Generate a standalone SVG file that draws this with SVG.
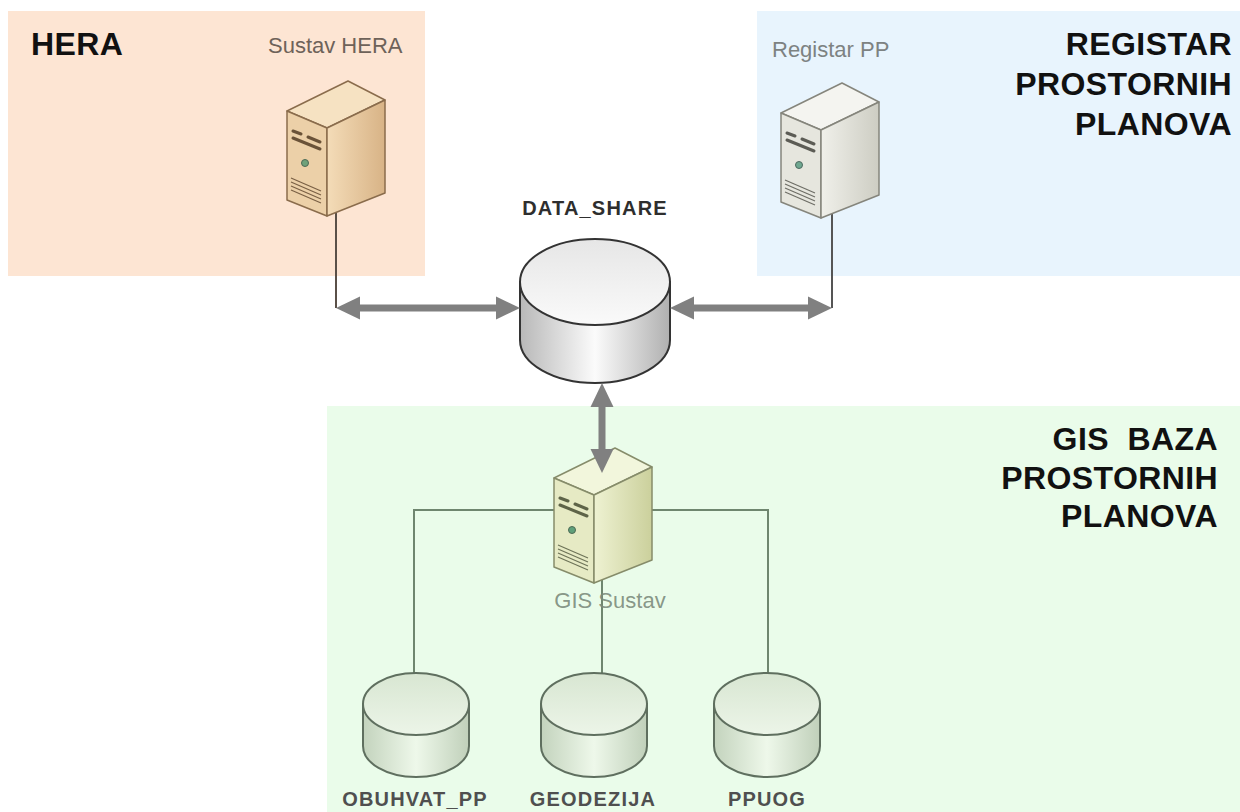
<svg xmlns="http://www.w3.org/2000/svg" width="1240" height="812" viewBox="0 0 1240 812">
<style>
.title{font-family:"Liberation Sans",Arial,sans-serif;font-weight:bold;font-size:32px;fill:#111;letter-spacing:0.4px}
.lbl{font-family:"Liberation Sans",Arial,sans-serif;font-size:22px}
.dbl{font-family:"Liberation Sans",Arial,sans-serif;font-weight:bold;font-size:20px;text-anchor:middle;letter-spacing:1.2px}
.thin{fill:none;stroke-width:2}
.arrow{stroke:#808080;stroke-width:7;fill:none;marker-start:url(#ah);marker-end:url(#ah)}
.slot{fill:none;stroke-width:3;stroke-linecap:round}
.vent{fill:none;stroke-width:1.2}
</style>
<defs>
<marker id="ah" markerUnits="userSpaceOnUse" markerWidth="24" markerHeight="24" refX="14" refY="11.5" orient="auto-start-reverse" viewBox="0 0 24 23">
<path d="M0,0 L24,11.5 L0,23 Z" fill="#808080"/>
</marker>
<linearGradient id="cylGray" x1="0" y1="0" x2="1" y2="0">
<stop offset="0" stop-color="#b8b8b8"/><stop offset="0.5" stop-color="#fbfbfb"/><stop offset="1" stop-color="#b0b0b0"/>
</linearGradient>
<linearGradient id="topGray" x1="0" y1="0" x2="0" y2="1">
<stop offset="0" stop-color="#e6e6e6"/><stop offset="1" stop-color="#fafafa"/>
</linearGradient>
<linearGradient id="cylGreen" x1="0" y1="0" x2="1" y2="0">
<stop offset="0" stop-color="#c3d3bd"/><stop offset="0.5" stop-color="#eef8ea"/><stop offset="1" stop-color="#c0d0ba"/>
</linearGradient>
<linearGradient id="topGreen" x1="0" y1="0" x2="0" y2="1">
<stop offset="0" stop-color="#d8e6d2"/><stop offset="1" stop-color="#ecf5e8"/>
</linearGradient>
<linearGradient id="sideHera" x1="0" y1="0" x2="1" y2="0">
<stop offset="0" stop-color="#f4dcb8"/><stop offset="1" stop-color="#d8b386"/>
</linearGradient>
<linearGradient id="sideReg" x1="0" y1="0" x2="1" y2="0">
<stop offset="0" stop-color="#f0f0ea"/><stop offset="1" stop-color="#cdcdc3"/>
</linearGradient>
<linearGradient id="sideGis" x1="0" y1="0" x2="1" y2="0">
<stop offset="0" stop-color="#eef2d2"/><stop offset="1" stop-color="#cbd09c"/>
</linearGradient>
</defs>

<g id="regions">
<rect id="region-hera" x="8" y="11" width="417" height="265" fill="#fde5d3"/>
<rect id="region-registar" x="757" y="11" width="483" height="265" fill="#e8f4fd"/>
<rect id="region-gis" x="327" y="406" width="913" height="406" fill="#eafcea"/>
<text class="title" x="31" y="55">HERA</text>
<text class="title" text-anchor="end"><tspan x="1232" y="55">REGISTAR</tspan><tspan x="1232" y="95">PROSTORNIH</tspan><tspan x="1232" y="135">PLANOVA</tspan></text>
<text class="title" text-anchor="end" xml:space="preserve"><tspan x="1218" y="450">GIS  BAZA</tspan><tspan x="1218" y="489">PROSTORNIH</tspan><tspan x="1218" y="527">PLANOVA</tspan></text>
</g>

<g id="connectors">
<path class="thin" stroke="#5a5048" d="M336,212 V308"/>
<path class="thin" stroke="#555" d="M832,212 V308"/>
<path class="thin" stroke="#6f866f" d="M557,510 H414 V673 M652,510 H768 V673 M602,570 V673"/>
</g>

<g id="node-sustav-hera">
<text class="lbl" x="268" y="53" fill="#6e6259">Sustav HERA</text>
<g transform="translate(348,81)" stroke="#8a6c4c" stroke-width="1.5" stroke-linejoin="round">
<path d="M-61,30 L0,0 L37,19 L-21,47 Z" fill="#f6e2c2"/>
<path d="M-61,30 L-21,47 L-21,135 L-61,119 Z" fill="#ecd0a8"/>
<path d="M-21,47 L37,19 L37,112 L-21,135 Z" fill="url(#sideHera)"/>
<path class="slot" stroke="#6a5238" d="M-55,50 L-47,53 M-40,56 L-28,61 M-55,57 L-28,68"/>
<circle cx="-43" cy="82" r="3.5" fill="#6fa27a" stroke="#4d6a55" stroke-width="1"/>
<path class="vent" stroke="#7a6045" d="M-57,97 L-27,110 M-57,101 L-27,114 M-57,105 L-27,118 M-57,109 L-27,122"/>
</g>
</g>

<g id="node-registar-pp">
<text class="lbl" x="772" y="57" fill="#7d8282">Registar PP</text>
<g transform="translate(842,83)" stroke="#85857c" stroke-width="1.5" stroke-linejoin="round">
<path d="M-61,30 L0,0 L37,19 L-21,47 Z" fill="#f4f4f0"/>
<path d="M-61,30 L-21,47 L-21,135 L-61,119 Z" fill="#e6e6de"/>
<path d="M-21,47 L37,19 L37,112 L-21,135 Z" fill="url(#sideReg)"/>
<path class="slot" stroke="#5c5c55" d="M-55,50 L-47,53 M-40,56 L-28,61 M-55,57 L-28,68"/>
<circle cx="-43" cy="82" r="3.5" fill="#6fa890" stroke="#4d6a60" stroke-width="1"/>
<path class="vent" stroke="#6e6e66" d="M-57,97 L-27,110 M-57,101 L-27,114 M-57,105 L-27,118 M-57,109 L-27,122"/>
</g>
</g>

<g id="node-data-share">
<text class="dbl" x="595" y="215" fill="#2e2e2e">DATA_SHARE</text>
<path d="M520,282 V340 A75,43 0 0 0 670,340 V282 Z" fill="url(#cylGray)" stroke="#333" stroke-width="2"/>
<ellipse cx="595" cy="282" rx="75" ry="43" fill="url(#topGray)" stroke="#333" stroke-width="2"/>
</g>

<g id="node-gis-sustav">
<g transform="translate(615,448)" stroke="#868c6a" stroke-width="1.5" stroke-linejoin="round">
<path d="M-61,30 L0,0 L37,19 L-21,47 Z" fill="#f2f6dc"/>
<path d="M-61,30 L-21,47 L-21,135 L-61,119 Z" fill="#e6eac4"/>
<path d="M-21,47 L37,19 L37,112 L-21,135 Z" fill="url(#sideGis)"/>
<path class="slot" stroke="#5e6448" d="M-55,50 L-47,53 M-40,56 L-28,61 M-55,57 L-28,68"/>
<circle cx="-43" cy="82" r="3.5" fill="#5fa07a" stroke="#4d6a55" stroke-width="1"/>
<path class="vent" stroke="#6e7458" d="M-57,97 L-27,110 M-57,101 L-27,114 M-57,105 L-27,118 M-57,109 L-27,122"/>
</g>
<text class="lbl" x="610" y="608" text-anchor="middle" fill="#7b8a7b" fill-opacity="0.9">GIS Sustav</text>
</g>

<g id="node-obuhvat-pp">
<path d="M363,704 V746 A53,31 0 0 0 469,746 V704 Z" fill="url(#cylGreen)" stroke="#5f6f5f" stroke-width="2"/>
<ellipse cx="416" cy="704" rx="53" ry="31" fill="url(#topGreen)" stroke="#5f6f5f" stroke-width="2"/>
<text class="dbl" x="415" y="806" fill="#4f4f4f">OBUHVAT_PP</text>
</g>
<g id="node-geodezija">
<path d="M541,704 V746 A53,31 0 0 0 647,746 V704 Z" fill="url(#cylGreen)" stroke="#5f6f5f" stroke-width="2"/>
<ellipse cx="594" cy="704" rx="53" ry="31" fill="url(#topGreen)" stroke="#5f6f5f" stroke-width="2"/>
<text class="dbl" x="593" y="806" fill="#4f4f4f">GEODEZIJA</text>
</g>
<g id="node-ppuog">
<path d="M714,704 V746 A53,31 0 0 0 820,746 V704 Z" fill="url(#cylGreen)" stroke="#5f6f5f" stroke-width="2"/>
<ellipse cx="767" cy="704" rx="53" ry="31" fill="url(#topGreen)" stroke="#5f6f5f" stroke-width="2"/>
<text class="dbl" x="767" y="806" fill="#4f4f4f">PPUOG</text>
</g>

<g id="arrows">
<path class="arrow" d="M346,308 H510"/>
<path class="arrow" d="M680,308 H822"/>
<path class="arrow" d="M602,393 V463"/>
</g>
</svg>
